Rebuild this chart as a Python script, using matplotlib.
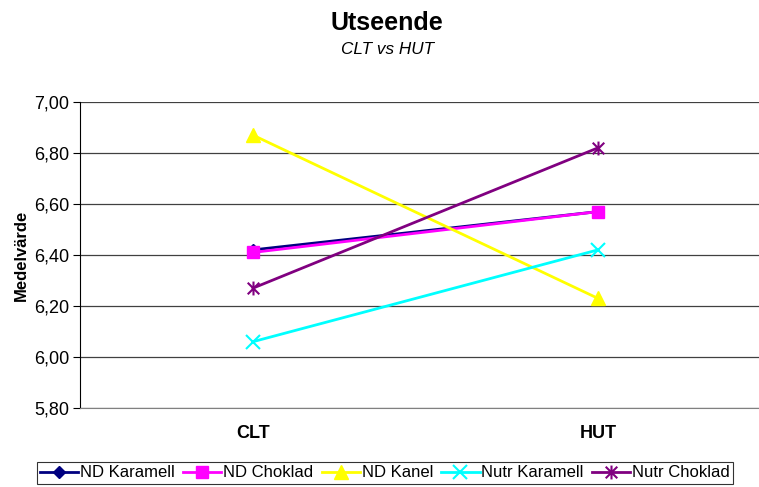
import matplotlib
matplotlib.use("Agg")
from matplotlib import pyplot as plt
from matplotlib.path import Path
from matplotlib.ticker import FuncFormatter

plt.rcParams['font.family'] = ['Liberation Sans', 'DejaVu Sans']

categories = ["CLT", "HUT"]
series_names = ["ND Karamell", "ND Choklad", "ND Kanel", "Nutr Karamell", "Nutr Choklad"]
nd_karamell = [6.42, 6.57]
nd_choklad = [6.41, 6.57]
nd_kanel = [6.87, 6.23]
nutr_karamell = [6.06, 6.42]
nutr_choklad = [6.27, 6.82]

# Excel-style star: an x with a vertical stroke through it
star = Path([(-1, -1), (1, 1), (-1, 1), (1, -1), (0, -1.2), (0, 1.2)],
            [Path.MOVETO, Path.LINETO, Path.MOVETO, Path.LINETO, Path.MOVETO, Path.LINETO])

colors = ["#000080", "#FF00FF", "#FFFF00", "#00FFFF", "#800080"]
markers = ["D", "s", "^", "x", star]
sizes = [6, 9, 10, 10, 10]

fig = plt.figure(figsize=(7.59, 4.87), dpi=100)
# plot area runs past the right edge, like the original
ax = fig.add_axes([0.106, 0.1622, 0.909, 0.6284])

x = range(len(categories))
all_series = [nd_karamell, nd_choklad, nd_kanel, nutr_karamell, nutr_choklad]
for i, (vals, name, c, m, s) in enumerate(zip(all_series, series_names, colors, markers, sizes)):
    ax.plot(x, vals, color=c, marker=m, markersize=s, linewidth=2,
            markeredgewidth=1.5 if i >= 3 else 1,
            markeredgecolor=c, label=name, clip_on=False)

ax.set_xlim(-0.5, 1.5)
ax.set_ylim(5.8, 7.0)
ax.set_yticks([5.8, 6.0, 6.2, 6.4, 6.6, 6.8, 7.0])
ax.yaxis.set_major_formatter(FuncFormatter(lambda v, p: f"{v:.2f}".replace(".", ",")))
ax.set_xticks(list(x))
ax.set_xticklabels(categories, fontweight="bold", fontsize=13)
ax.tick_params(axis='x', length=0, pad=12)
ax.tick_params(axis='y', labelsize=13, direction='out', length=5, pad=3)
ax.grid(axis='y', color='#404040', linewidth=0.9)
ax.set_axisbelow(True)
for side in ["top", "right"]:
    ax.spines[side].set_visible(False)
ax.spines['bottom'].set_color('#808080')
ax.set_ylabel("Medelvärde", fontweight="bold", fontsize=12, labelpad=4)

fig.text(0.51, 1 - 23 / 487, "Utseende", ha="center", va="center", fontsize=18, fontweight="bold")
fig.text(0.51, 1 - 49 / 487, "CLT vs HUT", ha="center", va="center", fontsize=12.3, style="italic")

leg = fig.legend(loc="upper center", bbox_to_anchor=(0.507, 1 - 462 / 487), ncol=5, fontsize=12,
                 frameon=True, fancybox=False, edgecolor='black', handlelength=2.3,
                 columnspacing=0.5, handletextpad=0.1, borderpad=0.2, borderaxespad=0)
leg.get_frame().set_linewidth(0.8)

fig.savefig("out.png", dpi=100)
